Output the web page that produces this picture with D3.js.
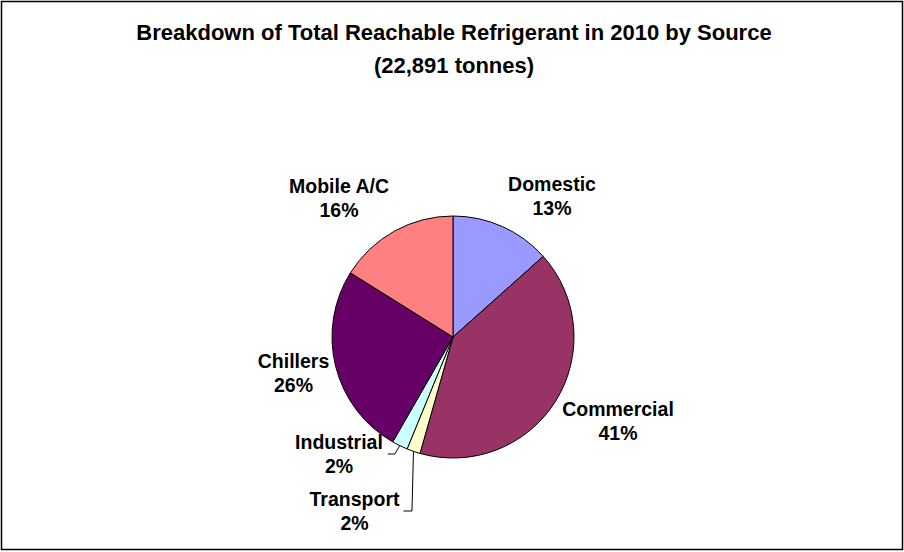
<!DOCTYPE html>
<html>
<head>
<meta charset="utf-8">
<script src="https://cdn.jsdelivr.net/npm/d3@7"></script>
<style>
  html, body { margin: 0; padding: 0; background: #fff; }
  svg { display: block; }
  text { font-family: "Liberation Sans", Arial, sans-serif; font-weight: bold; fill: #000; }
</style>
</head>
<body>
<svg id="chart" width="904" height="552"></svg>
<script>
// Reachable refrigerant by source, 2010 (tonnes), clockwise from 12 o'clock
const sources = ["Domestic", "Commercial", "Transport", "Industrial", "Chillers", "Mobile A/C"];
const tonnes  = [3067, 9385, 412, 481, 5860, 3686];
const colours = ["#9999FF", "#993366", "#FFFFCC", "#CCFFFF", "#660066", "#FF8080"];
const titleLines = ["Breakdown of Total Reachable Refrigerant in 2010 by Source", "(22,891 tonnes)"];

// Label placement (block centre x, first baseline y); the two small slices use leader lines
const labelLayout = {
  "Domestic":   { x: 552,   y: 191 },
  "Commercial": { x: 618,   y: 416 },
  "Transport":  { x: 354.5, y: 506, leader: "down" },
  "Industrial": { x: 339,   y: 449, leader: "side" },
  "Chillers":   { x: 293.5, y: 368 },
  "Mobile A/C": { x: 339,   y: 193 }
};

const W = 904, H = 552;
const cx = 453, cy = 337, R = 121;
const lineGap = 24;

const svg = d3.select("#chart");

// Chart area frame
svg.append("rect")
  .attr("x", 1.5).attr("y", 1.5)
  .attr("width", W - 3).attr("height", H - 4)
  .attr("fill", "#fff").attr("stroke", "#000").attr("stroke-width", 1.5);

// Title
svg.append("g").selectAll("text")
  .data(titleLines)
  .join("text")
  .attr("x", 454)
  .attr("y", (d, i) => 40 + i * 33)
  .attr("text-anchor", "middle")
  .attr("font-size", "22px")
  .text(d => d);

const data = sources.map((s, i) => ({ name: s, value: tonnes[i], colour: colours[i] }));
const total = d3.sum(tonnes);

const pie = d3.pie().value(d => d.value).sort(null).startAngle(0).endAngle(2 * Math.PI);
const arcs = pie(data);
const arc = d3.arc().innerRadius(0).outerRadius(R);

const g = svg.append("g").attr("transform", `translate(${cx},${cy})`);

g.selectAll("path")
  .data(arcs)
  .join("path")
  .attr("d", arc)
  .attr("fill", d => d.data.colour)
  .attr("stroke", "#000")
  .attr("stroke-width", 1)
  .attr("stroke-linejoin", "round");

// Leader lines for the labels that sit away from their slices
const pct = d => Math.round(d.value / total * 100) + "%";
arcs.forEach(a => {
  const L = labelLayout[a.data.name];
  if (!L.leader) return;
  const mid = (a.startAngle + a.endAngle) / 2;
  const ex = cx + R * Math.sin(mid), ey = cy - R * Math.cos(mid);
  let pts;
  if (L.leader === "side") {
    const yy = L.y + 5;
    pts = [[ex, ey], [ex - 5, yy], [ex - 12, yy]];
  } else {
    const yy = L.y + 5;
    pts = [[ex, ey], [ex - 1.5, yy], [ex - 10, yy]];
  }
  svg.append("path")
    .attr("d", d3.line()(pts))
    .attr("fill", "none")
    .attr("stroke", "#000")
    .attr("stroke-width", 1);
});

// Category and percentage labels
const labels = svg.append("g").selectAll("text")
  .data(arcs)
  .join("text")
  .attr("text-anchor", "middle")
  .attr("font-size", "19.5px");

labels.append("tspan")
  .attr("x", d => labelLayout[d.data.name].x)
  .attr("y", d => labelLayout[d.data.name].y)
  .text(d => d.data.name);

labels.append("tspan")
  .attr("x", d => labelLayout[d.data.name].x)
  .attr("y", d => labelLayout[d.data.name].y + lineGap)
  .text(d => pct(d.data));
</script>
</body>
</html>
